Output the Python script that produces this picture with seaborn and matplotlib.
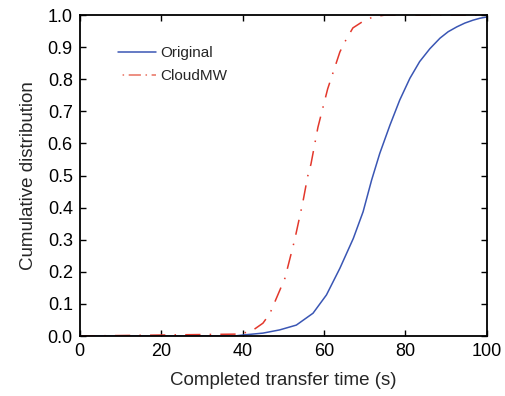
import matplotlib
matplotlib.use("Agg")
import matplotlib.pyplot as plt
import seaborn as sns
import pandas as pd

orig_x = [0, 38, 40.0, 45.0, 49.1, 53.2, 57.3, 60.6, 63.9, 67.2, 69.6, 71.7, 73.7, 76.2, 78.6, 81.1, 83.5, 86.0, 88.5, 90.5, 92.6, 94.6, 96.6, 98.3, 100]
orig_y = [0, 0, 0.003, 0.009, 0.019, 0.034, 0.071, 0.128, 0.211, 0.304, 0.387, 0.486, 0.569, 0.657, 0.735, 0.803, 0.855, 0.895, 0.928, 0.948, 0.963, 0.975, 0.984, 0.990, 0.994]

cloud_x = [0, 39.3, 42.3, 45.0, 46.7, 50.4, 52.8, 54.8, 56.0, 56.8, 58.5, 60.9, 63.9, 65.1, 67.1, 69.3, 72.0, 75.0, 100]
cloud_y = [0, 0.006, 0.016, 0.04, 0.07, 0.18, 0.30, 0.417, 0.498, 0.536, 0.65, 0.77, 0.885, 0.916, 0.96, 0.978, 0.994, 1.0, 1.0]

xticks = [0, 20, 40, 60, 80, 100]
yticks = [0.0, 0.1, 0.2, 0.3, 0.4, 0.5, 0.6, 0.7, 0.8, 0.9, 1.0]

sns.set_style("white")
plt.rcParams['font.family'] = ['Liberation Sans', 'DejaVu Sans']

fig = plt.figure(figsize=(5.05, 3.96), dpi=100)
ax = fig.add_axes([0.158, 0.1515, 0.806, 0.8105])

df_o = pd.DataFrame({"x": orig_x, "y": orig_y})
df_c = pd.DataFrame({"x": cloud_x, "y": cloud_y})
lw = 1.1
sns.lineplot(data=df_o, x="x", y="y", ax=ax, color="#3a56b4", linewidth=lw, label="Original", sort=False)
sns.lineplot(data=df_c, x="x", y="y", ax=ax, color="#e3382c", linewidth=lw, label="CloudMW", sort=False)
ax.lines[1].set_dashes([10, 6, 1, 6])

ax.set_xlim(0, 100)
ax.set_ylim(0, 1.0)
ax.set_xticks(xticks)
ax.set_yticks(yticks)
ax.set_xticklabels([str(v) for v in xticks])
ax.set_yticklabels([f"{v:.1f}" for v in yticks])
ax.tick_params(direction="in", length=4, width=1, labelsize=13, top=True, right=True, bottom=True, left=True, colors="black", pad=5)
for s in ax.spines.values():
    s.set_linewidth(1.3)
    s.set_color("black")
ax.set_xlabel("Completed transfer time (s)", fontsize=13.5, labelpad=9)
ax.set_ylabel("Cumulative distribution", fontsize=13.5, labelpad=8)

leg = ax.legend(loc="upper left", bbox_to_anchor=(0.06, 0.945), frameon=False, fontsize=11, handlelength=2.5, handletextpad=0.3, labelspacing=0.55)
leg.get_lines()[1].set_linestyle((8, (8, 3, 1, 3)))
leg.get_lines()[1].set_color("#e8705f")

fig.savefig("out.png", dpi=100)
